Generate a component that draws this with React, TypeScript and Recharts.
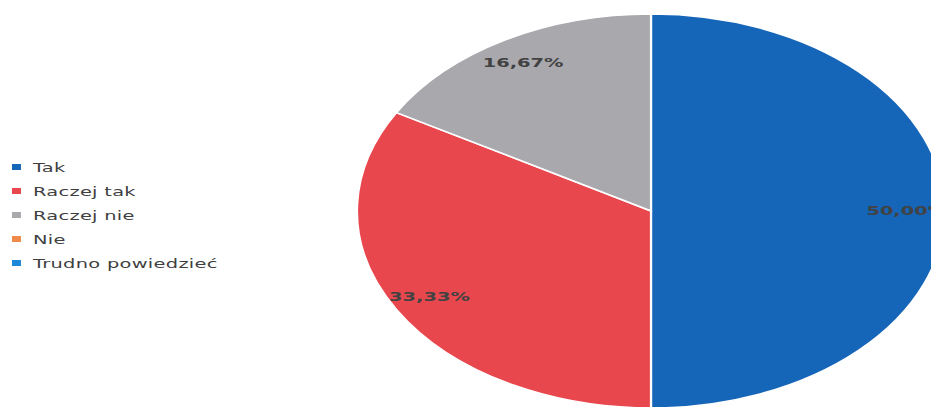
import React from 'react';
import { PieChart, Pie, Cell } from 'recharts';

const categories = ['Tak', 'Raczej tak', 'Raczej nie', 'Nie', 'Trudno powiedzieć'];
const shares = [50, 33.33, 16.67, 0, 0];
const colors = ['#1565b8', '#e8474e', '#a9a8ad', '#f08a4b', '#1e88d8'];

const data = categories.map((name, i) => ({ name, value: shares[i] }));

const RADIAN = Math.PI / 180;
// the original picture is stretched horizontally by about this much
const STRETCH = 1.4924;

const renderLabel = (props: any) => {
  const { cx, cy, midAngle, outerRadius, percent, value } = props;
  if (!value) return null;
  const r = outerRadius * 0.87;
  const x = cx + r * Math.cos(-midAngle * RADIAN);
  const y = cy + r * Math.sin(-midAngle * RADIAN);
  return (
    <text x={x} y={y} textAnchor="middle" dominantBaseline="central" fill="#424242"
      fontSize={13} fontWeight="bold" fontFamily="DejaVu Sans, sans-serif">
      {(percent * 100).toFixed(2).replace('.', ',')}%
    </text>
  );
};

const App: React.FC = () => {
  return (
    <div style={{ position: 'absolute', left: 0, top: 0, width: 931, height: 407, overflow: 'hidden', background: '#fff' }}>
      <div style={{ position: 'absolute', left: 451, top: 0, width: 400, height: 407, transform: `scaleX(${STRETCH})`, transformOrigin: '200px 211px' }}>
        <PieChart width={400} height={407} margin={{ top: 0, right: 0, bottom: 0, left: 0 }}>
          <Pie data={data} dataKey="value" nameKey="name" cx={200} cy={211} outerRadius={197}
            startAngle={90} endAngle={-270} stroke="#ffffff" strokeWidth={1.5}
            label={renderLabel} labelLine={false} isAnimationActive={false}>
            {data.map((d, i) => <Cell key={d.name} fill={colors[i]} />)}
          </Pie>
        </PieChart>
      </div>

      <div style={{ position: 'absolute', left: 12, top: 155, fontFamily: 'DejaVu Sans, sans-serif', fontSize: 13, color: '#3f3f3f', letterSpacing: 0.2, transform: `scaleX(${STRETCH})`, transformOrigin: '0 0' }}>
        {categories.map((c, i) => (
          <div key={c} style={{ display: 'flex', alignItems: 'center', height: 24, whiteSpace: 'nowrap' }}>
            <div style={{ width: 6, height: 6, background: colors[i], marginRight: 8 }} />
            <span>{c}</span>
          </div>
        ))}
      </div>
    </div>
  );
};

export default App;
